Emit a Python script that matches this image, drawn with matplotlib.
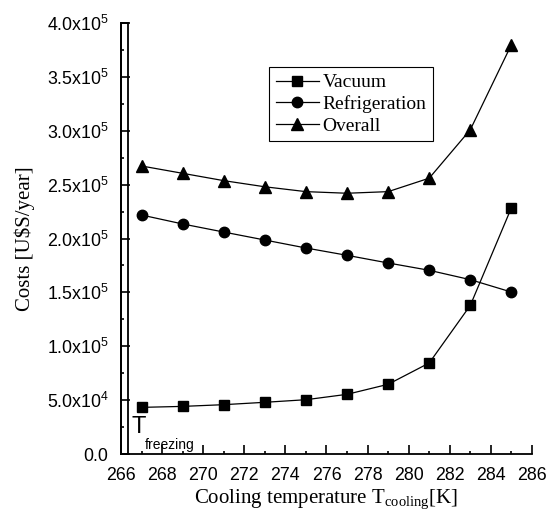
import numpy as np
import matplotlib
matplotlib.use("Agg")
import matplotlib.pyplot as plt
from matplotlib.ticker import FuncFormatter, MultipleLocator
from matplotlib.patches import Rectangle

plt.rcParams['font.family'] = 'Liberation Sans'
plt.rcParams['mathtext.default'] = 'regular'

# cooling temperature [K]
temp = [267, 269, 271, 273, 275, 277, 279, 281, 283, 285]
# costs [U$S/year]
vacuum = [0.433e5, 0.442e5, 0.458e5, 0.480e5, 0.504e5, 0.554e5, 0.647e5, 0.845e5, 1.38e5, 2.286e5]
refrigeration = [2.218e5, 2.135e5, 2.06e5, 1.986e5, 1.912e5, 1.844e5, 1.773e5, 1.705e5, 1.618e5, 1.503e5]
overall = [2.673e5, 2.605e5, 2.537e5, 2.48e5, 2.435e5, 2.42e5, 2.435e5, 2.56e5, 3.01e5, 3.80e5]
t_freezing = 266.33


def sci_fmt(v, pos):
    if abs(v) < 1:
        return "0.0"
    if v < 0:
        return ""
    e = int(np.floor(np.log10(v)))
    m = v / 10**e
    return "%.1fx10$^{%d}$" % (m, e)


fig = plt.figure(figsize=(5.57, 5.11), dpi=100)
ax = fig.add_axes([0.2172, 0.1115, 0.7379, 0.8435])

ax.plot(temp, vacuum, 'k-', marker='s', ms=7, lw=0.9, label='Vacuum')
ax.plot(temp, refrigeration, 'k-', marker='o', ms=7.5, lw=0.9, label='Refrigeration')
ax.plot(temp, overall, 'k-', marker='^', ms=8, lw=0.9, label='Overall')

ax.add_patch(Rectangle((266, 0), t_freezing - 266, 4.0e5, fill=False, ec='k', lw=1.3, clip_on=False))
ax.text(266.5, 0.195e5, 'T', fontsize=17, ha='left', va='baseline')
ax.text(267.17, 0.046e5, 'freezing', fontsize=10, ha='left', va='baseline')

ax.set_xlim(266, 286)
ax.set_ylim(0, 4.0e5)
ax.xaxis.set_major_locator(MultipleLocator(2))
ax.xaxis.set_minor_locator(MultipleLocator(1))
ax.yaxis.set_major_locator(MultipleLocator(0.5e5))
ax.yaxis.set_minor_locator(MultipleLocator(0.25e5))
ax.yaxis.set_major_formatter(FuncFormatter(sci_fmt))
ax.tick_params(which='both', direction='in', labelsize=12.8, width=1.2)
ax.tick_params(which='major', length=6.5)
ax.tick_params(which='minor', length=2.5)
ax.tick_params(axis='y', which='major', pad=9)
ax.tick_params(axis='x', which='major', pad=9)

for s in ['top', 'right']:
    ax.spines[s].set_visible(False)
for s in ['left', 'bottom']:
    ax.spines[s].set_linewidth(1.3)

ax.set_xlabel('Cooling temperature T$_{cooling}$[K]', family='Liberation Serif', fontsize=15)
ax.set_ylabel('Costs [U\\$S/year]', family='Liberation Serif', fontsize=15)
ax.xaxis.set_label_coords(0.5, -0.077)
ax.yaxis.set_label_coords(-0.209, 0.5)

leg = ax.legend(loc='upper left', bbox_to_anchor=(0.36, 0.898), borderaxespad=0,
                prop={'family': 'Liberation Serif', 'size': 14}, fancybox=False,
                edgecolor='k', framealpha=1, handlelength=2.2, handletextpad=0.2,
                labelspacing=0.2, borderpad=0.35)
leg.get_frame().set_linewidth(0.8)

fig.savefig('out.png', dpi=100)
